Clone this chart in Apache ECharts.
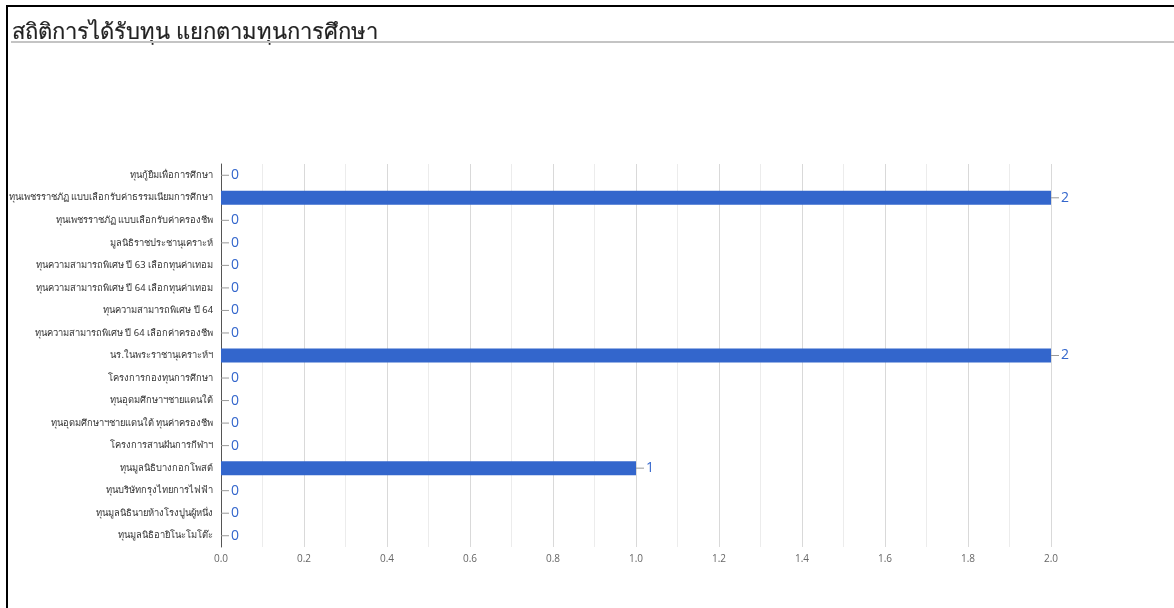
<!DOCTYPE html>
<html>
<head>
<meta charset="utf-8">
<script src="https://cdn.jsdelivr.net/npm/echarts@6/dist/echarts.min.js"></script>
<style>
  html, body { margin: 0; padding: 0; width: 1174px; height: 608px; background: #fff; overflow: hidden; }
  #frame { position: absolute; left: 6px; top: 5px; width: 1180px; height: 620px; border-left: 2px solid #000; border-top: 2px solid #000; }
  #title { position: absolute; left: 12px; top: 14px; font-family: "Noto Sans", "Open Sans", sans-serif; font-size: 22px; color: #222; white-space: nowrap; -webkit-text-stroke: 0.2px #222; }
  #rule { position: absolute; left: 11px; top: 41px; width: 1163px; height: 2px; background: #c4c4c4; }
  #chart { position: absolute; left: 0; top: 0; width: 1174px; height: 608px; }
</style>
</head>
<body>
<div id="chart"></div>
<div id="frame"></div>
<div id="title">สถิติการได้รับทุน แยกตามทุนการศึกษา</div>
<div id="rule"></div>
<script>
const categories = [
  "ทุนกู้ยืมเพื่อการศึกษา",
  "ทุนเพชรราชภัฏ แบบเลือกรับค่าธรรมเนียมการศึกษา",
  "ทุนเพชรราชภัฏ แบบเลือกรับค่าครองชีพ",
  "มูลนิธิราชประชานุเคราะห์",
  "ทุนความสามารถพิเศษ ปี 63 เลือกทุนค่าเทอม",
  "ทุนความสามารถพิเศษ ปี 64 เลือกทุนค่าเทอม",
  "ทุนความสามารถพิเศษ ปี 64",
  "ทุนความสามารถพิเศษ ปี 64 เลือกค่าครองชีพ",
  "นร.ในพระราชานุเคราะห์ฯ",
  "โครงการกองทุนการศึกษา",
  "ทุนอุดมศึกษาฯชายแดนใต้",
  "ทุนอุดมศึกษาฯชายแดนใต้ ทุนค่าครองชีพ",
  "โครงการสานฝันการกีฬาฯ",
  "ทุนมูลนิธิบางกอกโพสต์",
  "ทุนบริษัทกรุงไทยการไฟฟ้า",
  "ทุนมูลนิธินายห้างโรงปูนผู้หนึ่ง",
  "ทุนมูลนิธิอายิโนะโมโต๊ะ"
];
const values = [0, 2, 0, 0, 0, 0, 0, 0, 2, 0, 0, 0, 0, 1, 0, 0, 0];
const xTicks = { min: 0, max: 2, interval: 0.2 };

const chart = echarts.init(document.getElementById('chart'));
chart.setOption({
  animation: false,
  grid: { left: 221, right: 123, top: 164, bottom: 61, containLabel: false, outerBoundsMode: 'none' },
  xAxis: {
    type: 'value', min: xTicks.min, max: xTicks.max, interval: xTicks.interval,
    axisLine: { show: false }, axisTick: { show: false },
    axisLabel: { color: '#666', fontSize: 10, margin: 7, fontFamily: 'Open Sans, sans-serif', formatter: v => v.toFixed(1) },
    splitLine: { show: true, lineStyle: { color: '#d9d9d9', width: 1 } },
    minorTick: { show: false, splitNumber: 2 },
    minorSplitLine: { show: true, lineStyle: { color: '#ececec', width: 1 } }
  },
  yAxis: {
    type: 'category', data: categories, inverse: true,
    axisLine: { show: true, lineStyle: { color: '#555', width: 1 } },
    axisTick: { show: false },
    axisLabel: { color: '#333', fontSize: 9.4, margin: 8, fontFamily: 'Noto Sans, sans-serif' }
  },
  series: [{
    type: 'bar', data: values, barWidth: 14,
    itemStyle: { color: '#3366cc' },
    label: {
      show: true, position: 'right', distance: 0,
      formatter: p => '{l|}{v|' + p.value + '}',
      rich: {
        l: { width: 8, height: 1, backgroundColor: '#999' },
        v: { color: '#3366cc', fontSize: 14, padding: [0, 0, 0, 2], fontFamily: 'Open Sans, sans-serif' }
      }
    }
  }]
});
</script>
</body>
</html>
